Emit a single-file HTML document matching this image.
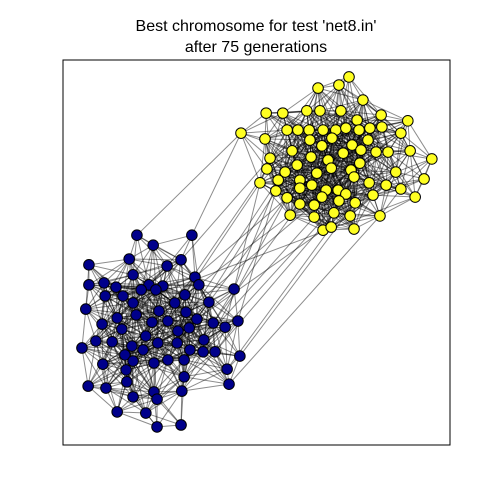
<!DOCTYPE html>
<html><head><meta charset="utf-8"><style>
html,body{margin:0;padding:0;background:#fff;}
svg{display:block;font-family:"Liberation Sans","DejaVu Sans",sans-serif;}
</style></head><body>
<svg id="chart" width="500" height="500" viewBox="0 0 500 500">
<rect width="500" height="500" fill="#fff"/>
<text x="256" y="31" text-anchor="middle" font-size="16" fill="#000">Best chromosome for test 'net8.in'</text>
<text x="256" y="52" text-anchor="middle" font-size="16" fill="#000">after 75 generations</text>
<g id="edges"></g>
<g id="nodes"></g>
<rect x="63" y="60" width="387" height="385" fill="none" stroke="#000" stroke-width="1"/>
</svg>
<script>
// Node positions (axis data units, 0..1)
const yellowX=[0.739,0.659,0.713,0.775,0.525,0.568,0.630,0.664,0.718,0.760,0.822,0.891,0.460,0.522,0.579,0.607,0.636,0.672,0.705,0.731,0.765,0.793,0.824,0.873,0.638,0.695,0.747,0.788,0.669,0.592,0.535,0.641,0.724,0.770,0.809,0.840,0.897,0.953,0.605,0.685,0.767,0.527,0.574,0.656,0.693,0.744,0.860,0.556,0.612,0.612,0.643,0.680,0.711,0.752,0.791,0.835,0.933,0.509,0.550,0.579,0.669,0.731,0.801,0.910,0.612,0.649,0.713,0.755,0.587,0.649,0.700,0.742,0.819,0.672,0.693,0.752,0.873];
const yellowY=[0.956,0.927,0.935,0.896,0.862,0.862,0.868,0.868,0.868,0.844,0.857,0.842,0.810,0.795,0.818,0.818,0.818,0.818,0.818,0.823,0.818,0.823,0.826,0.810,0.792,0.797,0.779,0.792,0.777,0.764,0.745,0.748,0.758,0.766,0.761,0.761,0.764,0.743,0.727,0.740,0.732,0.717,0.709,0.706,0.719,0.714,0.709,0.688,0.688,0.667,0.675,0.662,0.662,0.696,0.681,0.675,0.691,0.681,0.660,0.642,0.644,0.652,0.649,0.644,0.626,0.623,0.634,0.629,0.597,0.592,0.603,0.595,0.595,0.558,0.566,0.561,0.665];
const blueX=[0.191,0.233,0.333,0.171,0.305,0.067,0.269,0.181,0.341,0.106,0.067,0.222,0.137,0.258,0.315,0.351,0.442,0.155,0.202,0.240,0.109,0.181,0.377,0.059,0.289,0.248,0.318,0.140,0.189,0.230,0.346,0.388,0.101,0.419,0.452,0.271,0.297,0.152,0.214,0.326,0.364,0.085,0.049,0.127,0.178,0.245,0.295,0.393,0.328,0.362,0.160,0.207,0.457,0.271,0.103,0.181,0.235,0.313,0.424,0.065,0.111,0.163,0.165,0.235,0.313,0.429,0.181,0.243,0.307,0.140,0.214,0.305,0.243];
const blueY=[0.545,0.519,0.545,0.483,0.481,0.468,0.465,0.442,0.436,0.421,0.416,0.416,0.410,0.413,0.390,0.416,0.405,0.387,0.403,0.403,0.387,0.369,0.371,0.353,0.369,0.348,0.345,0.330,0.338,0.319,0.327,0.317,0.314,0.306,0.322,0.322,0.296,0.301,0.283,0.304,0.273,0.270,0.252,0.268,0.257,0.265,0.265,0.242,0.247,0.242,0.234,0.247,0.231,0.221,0.210,0.218,0.213,0.221,0.197,0.153,0.148,0.195,0.164,0.138,0.177,0.158,0.125,0.119,0.140,0.086,0.083,0.052,0.047];
// Inter-cluster edges: [blueIndex, yellowIndex]
const crossEdges=[[16,57],[16,47],[34,58],[33,61],[22,48],[2,12],[8,59],[15,68],[31,64],[30,73],[52,67],[40,69],[26,60],[14,57],[4,30],[65,72],[58,74],[39,58],[36,47],[0,12],[49,59],[21,63],[47,70],[24,41]];
const linkDistance=0.14;

const X0=63,X1=450,Y0=445,Y1=60;
const sx=v=>X0+v*(X1-X0);
const sy=v=>Y0-v*(Y0-Y1);
const NS="http://www.w3.org/2000/svg";
const eg=document.getElementById('edges'), ng=document.getElementById('nodes');
function line(x1,y1,x2,y2){
  const l=document.createElementNS(NS,'line');
  l.setAttribute('x1',sx(x1));l.setAttribute('y1',sy(y1));
  l.setAttribute('x2',sx(x2));l.setAttribute('y2',sy(y2));
  l.setAttribute('stroke','rgba(0,0,0,0.45)');l.setAttribute('stroke-width','1');
  
  
  eg.appendChild(l);
}
function clusterEdges(xs,ys){
  for(let i=0;i<xs.length;i++)for(let j=i+1;j<xs.length;j++){
    const d=Math.hypot(xs[i]-xs[j],ys[i]-ys[j]);
    if(d<linkDistance) line(xs[i],ys[i],xs[j],ys[j]);
  }
}
clusterEdges(yellowX,yellowY);
clusterEdges(blueX,blueY);
crossEdges.forEach(e=>line(blueX[e[0]],blueY[e[0]],yellowX[e[1]],yellowY[e[1]]));
function node(x,y,fill,name){
  const c=document.createElementNS(NS,'circle');
  c.setAttribute('cx',sx(x));c.setAttribute('cy',sy(y));c.setAttribute('r','5.3');
  c.setAttribute('fill',fill);c.setAttribute('stroke','#000');c.setAttribute('stroke-width','1');
  
  
  ng.appendChild(c);
}
yellowX.forEach((x,i)=>node(x,yellowY[i],'#ffff22','yellow-node'));
blueX.forEach((x,i)=>node(x,blueY[i],'#00008b','blue-node'));
</script>
</body></html>
